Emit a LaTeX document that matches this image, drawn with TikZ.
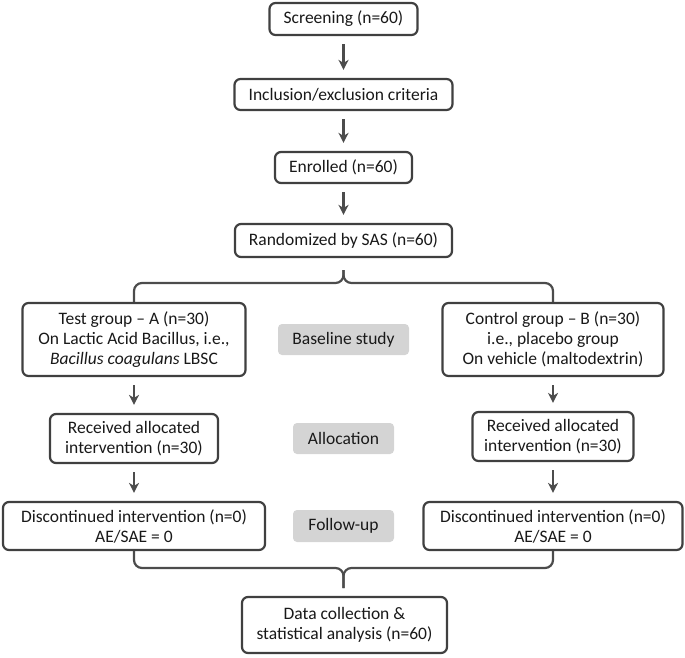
\documentclass[tikz,border=0pt]{standalone}
\usepackage{fontspec}
\setmainfont{Carlito}
\usepackage{tikz}
\usetikzlibrary{arrows.meta}

\begin{document}
\begin{tikzpicture}[x=1pt,y=-1pt,
    >={Stealth[length=10pt,width=10pt,inset=3pt]},
    every node/.style={font=\fontsize{17.5}{20}\selectfont,
                       text=black!90,
                       align=center,
                       inner sep=0pt},
    box/.style={rectangle,
                rounded corners=6pt,
                draw=black!75,
                line width=2.2pt,
                fill=white},
    phase/.style={rectangle,
                  rounded corners=4pt,
                  fill=black!17},
    flow/.style={->,
                 draw=black!70,
                 line width=2.2pt,
                 shorten <=8pt,
                 shorten >=8pt},
    fork/.style={draw=black!70,
                 line width=2.2pt,
                 rounded corners=8pt}]

    \useasboundingbox (0,0) rectangle (685,657);

    % main column
    \node[box,
          minimum width = 148pt,
          minimum height = 32pt
          ] (screen) at (343.5,19) {Screening (n=60)};

    \node[box,
          minimum width = 218pt,
          minimum height = 31pt
          ] (incl) at (343.5,94.5) {Inclusion/exclusion criteria};

    \node[box,
          minimum width = 137pt,
          minimum height = 31pt
          ] (enrol) at (343.5,167.5) {Enrolled (n=60)};

    \node[box,
          minimum width = 217pt,
          minimum height = 33pt
          ] (rand) at (343.5,240.5) {Randomized by SAS (n=60)};

    % group A
    \node[box,
          minimum width = 223pt,
          minimum height = 73pt
          ] (testA) at (134,339.5) {Test group – A (n=30)\\
                                    On Lactic Acid Bacillus, i.e.,\\
                                    \textit{Bacillus coagulans} LBSC};

    \node[box,
          minimum width = 168pt,
          minimum height = 49pt
          ] (recA) at (134,438.5) {Received allocated\\ intervention (n=30)};

    \node[box,
          minimum width = 262pt,
          minimum height = 48pt
          ] (discA) at (134,526) {Discontinued intervention (n=0)\\ AE/SAE = 0};

    % group B
    \node[box,
          minimum width = 221pt,
          minimum height = 73pt
          ] (ctrlB) at (553,339.5) {Control group – B (n=30)\\
                                    i.e., placebo group\\
                                    On vehicle (maltodextrin)};

    \node[box,
          minimum width = 161pt,
          minimum height = 49pt
          ] (recB) at (553,436.5) {Received allocated\\ intervention (n=30)};

    \node[box,
          minimum width = 259pt,
          minimum height = 48pt
          ] (discB) at (553,526) {Discontinued intervention (n=0)\\ AE/SAE = 0};

    % phases
    \node[phase,
          minimum width = 131pt,
          minimum height = 31pt
          ] (base) at (343.5,339.5) {Baseline study};

    \node[phase,
          minimum width = 101pt,
          minimum height = 31pt
          ] (alloc) at (343.5,438.5) {Allocation};

    \node[phase,
          minimum width = 101pt,
          minimum height = 32pt
          ] (follow) at (343.5,526) {Follow-up};

    \node[box,
          minimum width = 205pt,
          minimum height = 56pt
          ] (data) at (344.5,625) {Data collection \&\\ statistical analysis (n=60)};

    \coordinate (topsplit) at (343.5,270);
    \coordinate (botsplit) at (343.5,588);

    \path
    (screen) edge [flow] (incl)
    (incl) edge [flow] (enrol)
    (enrol) edge [flow] (rand)
    (testA) edge [flow] (recA)
    (recA) edge [flow] (discA)
    (ctrlB) edge [flow] (recB)
    (recB) edge [flow] (discB);

    %split and merge
    \draw[fork] (topsplit) -- ++(0,13) -| (testA.north);
    \draw[fork] (topsplit) -- ++(0,13) -| (ctrlB.north);
    \draw[fork] (botsplit) -- ++(0,-20) -| (discA.south);
    \draw[fork] (botsplit) -- ++(0,-20) -| (discB.south);

\end{tikzpicture}
\end{document}
